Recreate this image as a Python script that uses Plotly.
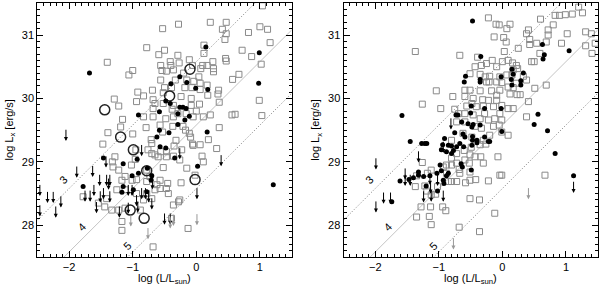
import plotly.graph_objects as go

# ---------------- data (log L/Lsun, log Lx) ----------------
left_sq_x = [1.04,-0.28,-0.53,0.22,0.47,0.41,0.47,0.82,1.00,1.12,1.16,0.45,0.72,0.87,0.12,-0.78,-0.59,-0.50,-0.29,-0.11,
             0.12,0.26,0.46,0.47,-1.40,-1.00,-1.06,-0.56,-0.41,-0.40,-0.27,-0.06,0.10,0.17,-0.54,-0.47,-0.36,-0.20,0.07,0.27,
             0.27,0.67,0.57,1.02,-0.56,-0.33,-0.15,-0.04,0.04,0.06,-0.69,-0.50,-0.39,-0.18,-0.07,0.06,0.17,0.35,0.34,-0.92,
             0.18,-0.52,-0.68,-1.29,-1.22,-0.94,-0.83,-0.65,-0.52,-0.36,-0.24,-0.08,-0.08,0.05,0.36,0.99,-0.68,-0.38,-0.29,-0.16,
             0.00,0.22,0.56,0.61,1.03,-0.83,-0.68,-0.48,-0.36,-0.05,0.11,-1.16,-1.19,-0.79,-0.57,-0.37,-0.21,-0.17,0.36,-1.00,
             -0.53,-0.11,-1.39,0.19,-0.71,-0.32,-0.09,-1.47,
             -0.70,0.06,-0.95,-0.76,-0.70,-0.56,-0.47,-0.65,-0.60,-0.47,-0.36,-0.23,0.32,-0.06,0.09,-1.28,-1.32,-0.96,-1.02,-0.26,
             0.11,-1.22,-1.31,-0.78,-0.52,-0.73,-1.12,-1.17,-1.01,-0.94,-0.57,-0.45,-0.62,-0.78,-0.24,-0.02,-0.65,-0.57,-0.47,-0.44,
             -1.25,-1.12,-0.94,-0.78,-0.70,-0.83,-1.78,-1.54,-1.41,-1.44,-1.33,-1.22,-0.88,-1.12,-0.26,-0.36,-0.28,-0.39,-1.17,-1.17,
             -0.13,-0.68,-0.15,-0.05,-0.35]
left_sq_y = [31.46,31.17,31.10,31.20,31.20,31.09,31.02,31.04,31.13,31.09,30.88,30.93,30.76,30.66,30.84,30.80,30.69,30.76,30.68,30.61,
             30.71,30.58,30.63,30.59,30.57,30.44,30.37,30.52,30.58,30.52,30.56,30.52,30.52,30.52,30.44,30.43,30.45,30.40,30.47,30.47,
             30.42,30.38,30.30,30.54,30.29,30.29,30.29,30.27,30.34,30.24,30.13,30.17,30.17,30.17,30.17,30.14,30.21,30.13,30.07,30.10,
             30.05,30.09,29.98,29.99,29.88,29.95,30.04,29.92,29.92,29.89,30.03,30.00,29.89,29.91,29.94,29.97,29.84,29.83,29.76,29.76,
             29.80,29.74,29.74,29.75,29.73,29.71,29.71,29.68,29.71,29.71,29.71,29.67,29.55,29.54,29.58,29.56,29.56,29.50,29.54,29.44,
             29.47,29.45,29.46,29.35,29.35,29.34,29.39,29.28,
             29.29,29.27,29.19,29.19,29.13,29.16,29.16,29.11,29.08,29.08,29.09,29.19,29.21,29.28,29.09,29.08,29.00,29.04,28.95,29.03,
             29.00,28.87,28.92,28.87,28.91,28.77,28.77,28.71,28.71,28.72,28.71,28.66,28.64,28.69,28.67,28.79,28.56,28.58,28.58,28.50,
             28.56,28.56,28.50,28.50,28.42,28.40,28.45,28.35,28.42,28.29,28.24,28.24,28.24,28.27,28.40,28.32,28.37,28.11,28.06,27.92,
             27.95,27.66,28.90,29.26,29.25]

left_dot_x = [-1.68,0.15,0.99,0.98,-0.26,-0.40,-0.15,-0.01,0.18,-0.48,-0.41,-0.26,-0.21,-0.16,-0.58,-0.91,-0.29,-0.11,-0.18,-0.29,
              -0.58,-0.43,0.17,-0.62,-1.15,-0.93,-1.46,-1.78,-1.15,-1.17,-1.01,-0.91,-0.71,-0.57,-0.48,-0.34,0.02,-0.99,-0.78,1.21,
              -0.77,-0.70]
left_dot_y = [30.40,30.81,30.72,30.24,30.34,30.23,30.25,30.16,30.14,29.96,29.92,29.86,29.86,29.84,29.79,29.74,29.76,29.72,29.66,29.59,
              29.50,29.46,29.47,29.39,28.97,29.04,29.06,28.61,28.61,28.52,28.78,28.82,28.71,29.24,29.22,29.06,28.93,28.56,28.53,28.64,
              28.90,28.78]

left_circ_x = [-0.10,-0.42,-1.44,-1.19,-0.99,-0.78,-0.02,-1.04,-0.82]
left_circ_y = [30.46,30.04,29.82,29.39,29.19,28.86,28.72,28.24,28.11]

left_ul_x = [-2.05,-2.46,-2.46,-2.34,-2.25,-2.13,-2.21,-1.88,-1.63,-1.75,-1.67,-1.61,-1.57,-1.52,-1.51,-1.42,-1.41,-1.38,-1.36,-1.46,
             -1.36,-1.21,-1.07,-1.07,-1.01,-0.94,-0.92,-0.86,-0.86,-0.80,-0.75,-0.69,-0.26,-0.50,-0.41,0.39,0.01,-0.70]
left_ul_y = [29.53,28.66,28.34,28.55,28.55,28.48,28.32,28.95,28.96,28.57,28.57,28.66,28.39,28.82,28.56,29.11,28.82,28.76,28.82,28.61,
             28.56,28.32,28.38,28.66,28.66,28.50,28.40,29.29,28.61,28.61,28.56,28.77,29.24,28.21,28.21,29.13,28.61,28.45]
left_ulg_x = [0.01,-0.36,-0.41,-1.03,-0.76]
left_ulg_y = [28.20,28.19,28.15,28.18,27.98]

right_sq_x = [1.20,1.26,-0.22,-0.10,-0.05,0.12,0.07,0.60,0.83,0.90,0.99,1.10,0.80,0.72,0.41,0.38,0.72,1.02,1.31,1.40,
              1.46,-0.13,0.02,0.06,0.43,0.43,0.54,0.69,0.93,1.31,1.41,-1.37,-0.67,-0.39,0.25,0.03,0.09,0.59,0.46,0.50,
              -0.16,0.00,0.16,0.22,0.24,-0.25,-0.33,-0.43,-0.09,0.17,-0.51,-0.35,-0.27,-0.20,-0.04,0.07,0.15,0.33,0.38,-0.25,
              -0.21,-0.09,-0.01,0.22,0.69,0.51,-0.59,-0.51,-0.35,-0.17,-0.04,0.09,0.17,0.23,0.28,0.12,-0.09,-1.04,-0.78,-0.59,
              -0.46,-0.31,-0.22,-0.09,-0.48,-1.26,-0.97,-0.56,-0.41,-0.30,-0.14,-0.01,0.09,0.17,-0.75,-0.69,-0.59,-0.46,-0.28,-0.04,
              0.38,0.41,-0.35,-0.22,-0.12,-0.01,-0.59,-0.72,-0.43,-0.33,-0.14,-0.05,-0.01,-0.20,0.09,-0.62,-0.48,-0.80,-0.30,
              -0.35,-0.26,-0.49,-0.60,-0.72,-0.51,-0.43,-0.34,-0.30,-0.07,-0.80,-1.26,-0.88,-0.80,-0.72,-0.59,-0.52,-1.18,-1.12,-0.93,
              -0.88,-0.68,-0.67,-0.51,-0.51,-0.42,-0.22,-0.04,-0.01,0.67,-1.35,-1.37,-0.85,-0.80,-0.72,-0.58,-1.22,-1.02,-1.19,-1.12,
              -1.05,-0.51,-0.36,-1.28,-1.13,-0.94,-0.89,-1.35,-1.15,-0.12,-1.12,-0.68,-0.36]
right_sq_y = [31.44,31.35,31.27,31.17,31.16,31.17,31.10,31.25,31.31,31.31,31.32,31.33,31.16,31.08,31.08,31.02,31.00,31.02,31.05,31.02,
              30.87,30.97,30.96,30.89,30.93,30.85,30.87,30.89,30.87,30.83,30.71,30.74,30.68,30.65,30.79,30.74,30.60,30.71,30.58,30.58,
              30.60,30.58,30.56,30.52,30.47,30.55,30.52,30.50,30.50,30.45,30.39,30.38,30.34,30.35,30.34,30.37,30.37,30.35,30.29,30.26,
              30.26,30.26,30.25,30.24,30.21,30.16,30.13,30.13,30.12,30.12,30.13,30.18,30.17,30.06,30.06,30.07,30.05,30.12,30.03,30.03,
              30.00,29.98,29.97,29.97,29.92,29.91,29.84,29.88,29.87,29.88,29.87,29.89,29.84,29.84,29.83,29.76,29.76,29.74,29.76,29.76,
              29.71,29.95,29.68,29.66,29.68,29.66,29.63,29.63,29.56,29.53,29.56,29.58,29.47,29.42,29.42,29.45,29.39,29.34,29.34,
              29.27,29.28,29.23,29.18,29.13,29.11,29.08,29.08,28.98,29.08,29.06,28.99,28.95,28.95,28.98,29.03,28.98,28.82,28.87,28.92,
              28.82,28.88,28.82,28.84,28.71,28.72,28.70,28.79,28.79,28.79,28.78,28.61,28.69,28.69,28.69,28.67,28.62,28.61,28.54,28.48,
              28.49,28.42,28.40,28.29,28.29,28.29,28.23,28.13,28.14,28.19,28.01,27.97,27.90]

right_dot_x = [-0.47,-1.58,-0.34,0.63,0.66,0.64,1.05,0.15,0.33,0.17,-0.58,-0.60,-0.35,-0.35,-0.02,0.14,0.29,0.29,0.15,-0.49,
               -0.50,-0.28,-0.02,-0.70,-0.73,-0.64,-0.54,-0.48,-0.46,-0.35,-0.75,-0.62,-0.59,-0.47,-0.47,-0.28,-0.40,-0.20,-0.01,0.50,
               0.56,0.71,-0.91,-1.22,-1.45,-1.27,-1.19,-0.94,-0.85,-0.80,-0.72,-0.61,-0.48,-0.40,-0.22,-0.67,-0.96,-0.88,-0.80,-0.77,
               -0.65,-0.63,-0.49,-0.98,-0.96,-0.85,-0.88,-0.93,-1.61,-1.47,-1.40,-1.32,-1.32,-1.24,-1.20,-1.14,-1.03,-0.92,-1.02,-1.74,
               0.83,1.12]
right_dot_y = [31.22,29.73,30.66,30.85,30.69,30.62,30.75,30.46,30.40,30.38,30.35,30.26,30.30,30.26,30.34,30.30,30.28,30.21,30.21,29.88,
               29.77,29.84,29.84,29.74,29.74,29.63,29.60,29.55,29.59,29.58,29.46,29.44,29.39,29.40,29.34,29.39,29.34,29.32,29.48,29.59,
               29.75,29.49,29.37,29.29,29.32,29.29,29.29,29.27,29.26,29.25,29.24,29.24,29.26,29.30,29.32,29.29,29.19,29.16,29.13,29.18,
               28.97,28.92,28.87,28.95,28.86,28.82,28.78,28.71,28.70,28.72,28.75,28.84,28.79,28.77,28.62,28.78,28.82,28.66,28.54,28.37,
               29.13,28.78]

right_ul_x = [-0.81,-1.99,-1.99,-1.87,-1.76,-1.53,-1.53,-1.45,-1.32,-1.14,-1.13,-1.24,-1.12,-0.93,-0.93,-1.02,1.12]
right_ul_y = [29.71,29.08,28.40,28.54,28.54,28.92,28.82,28.82,29.19,28.84,28.70,28.56,28.57,29.34,28.57,28.82,28.71]
right_ulg_x = [0.41,-0.77]
right_ulg_y = [28.61,27.82]

# ratio lines: log(Lx/L) levels, log Lsun in erg/s
ratio_levels = [-3, -4, -5]
ratio_labels = ["3", "4", "5"]
log_lsun = 33.58
label_x = [-2.10, -1.80, -1.09]
label_y = [28.72, 27.97, 27.68]

x_range = [-2.5, 1.5]
y_range = [27.5, 31.5]
x_ticks = [-2, -1, 0, 1]
y_ticks = [28, 29, 30, 31]
arrow_len = 0.2

FONT = "Liberation Sans, Arial, Helvetica, sans-serif"

# ---------------- figure ----------------
fig = go.Figure()
panels = [
    ("x", "y", left_sq_x, left_sq_y, left_dot_x, left_dot_y, left_circ_x, left_circ_y,
     left_ul_x, left_ul_y, left_ulg_x, left_ulg_y),
    ("x2", "y2", right_sq_x, right_sq_y, right_dot_x, right_dot_y, [], [],
     right_ul_x, right_ul_y, right_ulg_x, right_ulg_y),
]
line_styles = [dict(color="#7a7a7a", width=1, dash="1px,2px"),
               dict(color="#c4c4c4", width=1),
               dict(color="#7a7a7a", width=1, dash="1px,2px")]

annotations = []
for xa, ya, sx, sy, dx, dy, cx, cy, ux, uy, gx, gy in panels:
    for lev, st in zip(ratio_levels, line_styles):
        fig.add_trace(go.Scatter(x=x_range, y=[x_range[0] + log_lsun + lev, x_range[1] + log_lsun + lev],
                                 mode="lines", line=st, xaxis=xa, yaxis=ya, hoverinfo="skip"))
    fig.add_trace(go.Scatter(x=sx, y=sy, mode="markers", xaxis=xa, yaxis=ya,
                             marker=dict(symbol="square-open", size=6, color="#8a8a8a", line=dict(width=1))))
    if cx:
        fig.add_trace(go.Scatter(x=cx, y=cy, mode="markers", xaxis=xa, yaxis=ya,
                                 marker=dict(symbol="circle-open", size=10, color="#222222", line=dict(width=1.5))))
    fig.add_trace(go.Scatter(x=dx, y=dy, mode="markers", xaxis=xa, yaxis=ya,
                             marker=dict(symbol="circle", size=5, color="black")))
    for xs, ys, col in ((ux, uy, "black"), (gx, gy, "#999999")):
        for xv, yv in zip(xs, ys):
            annotations.append(dict(x=xv, y=yv - arrow_len, ax=xv, ay=yv, xref=xa, yref=ya,
                                    axref=xa, ayref=ya, text="", showarrow=True, arrowhead=2,
                                    arrowsize=0.8, arrowwidth=1, arrowcolor=col))
    for t, lx, lyv in zip(ratio_labels, label_x, label_y):
        annotations.append(dict(x=lx, y=lyv, xref=xa, yref=ya, text=t, showarrow=False,
                                textangle=-45, font=dict(family=FONT, size=11, color="black")))
    # axis titles
    annotations.append(dict(x=0.5, y=(289 - 279) / 289, xref=xa + " domain", yref="paper",
                            text="log (L/L<sub>sun</sub>)", showarrow=False, yanchor="middle",
                            font=dict(family=FONT, size=11, color="black")))
    annotations.append(dict(x=-27 / 254, y=0.5, xref=xa + " domain", yref=ya + " domain",
                            text="log L<sub>x</sub> [erg/s]", textangle=-90, showarrow=False,
                            xanchor="center", yanchor="middle", font=dict(family=FONT, size=11, color="black")))

axis_common = dict(showline=True, linecolor="black", linewidth=1, mirror="ticks",
                   ticks="inside", ticklen=6, tickcolor="black", showgrid=False, zeroline=False,
                   tickfont=dict(family=FONT, size=11, color="black"),
                   minor=dict(ticks="inside", ticklen=3, dtick=0.1, tickcolor="black", showgrid=False))

xt = dict(axis_common, range=x_range, tickvals=x_ticks)
yt = dict(axis_common, range=y_range, tickvals=y_ticks)

fig.update_layout(
    width=600, height=289, margin=dict(l=0, r=0, t=0, b=0),
    paper_bgcolor="white", plot_bgcolor="white", showlegend=False, hovermode=False,
    xaxis=dict(xt, domain=[0.0622, 0.4862], anchor="y"),
    yaxis=dict(yt, domain=[0.1107, 0.9886], anchor="x"),
    xaxis2=dict(xt, domain=[0.5725, 0.9962], anchor="y2"),
    yaxis2=dict(yt, domain=[0.1107, 0.9886], anchor="x2"),
    annotations=annotations,
)

fig.write_html("out.html", config={"displayModeBar": False, "staticPlot": True},
               post_script="document.body.style.margin='0px';document.body.style.overflow='hidden';")
